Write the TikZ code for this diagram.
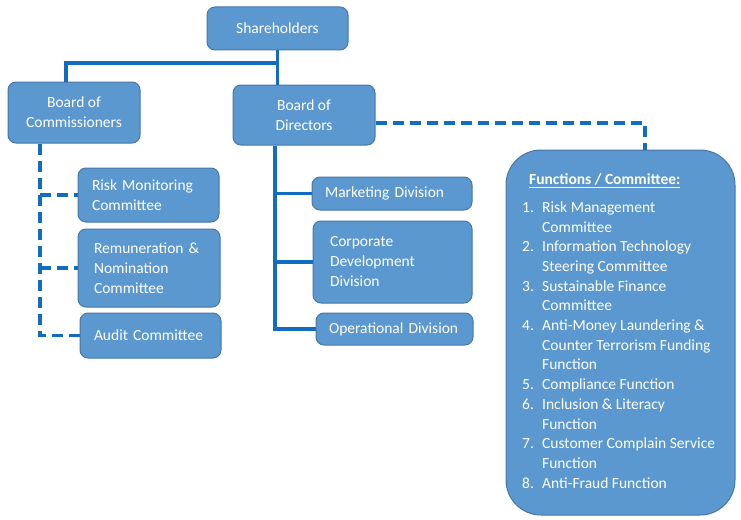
\documentclass[tikz,border=0pt]{standalone}
\usepackage{fontspec}
\setmainfont{Carlito}
\definecolor{boxfill}{RGB}{91,152,208}
\definecolor{boxline}{RGB}{70,120,165}
\definecolor{conn}{RGB}{18,108,192}
\begin{document}
\begin{tikzpicture}[x=1pt,y=-1pt,
 box/.style={draw=boxline, line width=1pt, fill=boxfill, rounded corners=8pt, text=white,
   font=\fontsize{15.5}{20}\selectfont, inner ysep=0pt},
 solidline/.style={draw=conn, line width=3.5pt},
 dashline/.style={draw=conn, line width=3.5pt, dash pattern=on 11pt off 6pt}]
\useasboundingbox (0,0) rectangle (741,519);
% boxes
\node[box, minimum width=141pt, minimum height=43pt] (sh) at (277.5,28.5) {Shareholders};
\node[box, minimum width=132pt, minimum height=61pt, align=center] (boc) at (74,112.5) {Board of\\Commissioners};
\node[box, minimum width=142pt, minimum height=60pt, align=center] (bod) at (304,115) {Board of\\Directors};
\node[box, minimum width=141pt, minimum height=54pt, inner xsep=14pt, text width=113pt, align=left] (rmc) at (148.5,195) {Risk Monitoring\\Committee};
\node[box, minimum width=142pt, minimum height=78pt, inner xsep=16pt, text width=110pt, align=left] (rem) at (149,268) {Remuneration \&\\Nomination\\Committee};
\node[box, minimum width=141pt, minimum height=45pt, inner xsep=14pt, text width=113pt, align=left] (aud) at (150.5,335.5) {Audit Committee};
\node[box, minimum width=160pt, minimum height=33pt, inner xsep=13pt, text width=134pt, align=left] (mkt) at (392,193.5) {Marketing Division};
\node[box, minimum width=159pt, minimum height=82pt, inner xsep=17pt, text width=125pt, align=left] (cor) at (392.5,262) {Corporate\\Development\\Division};
\node[box, minimum width=157pt, minimum height=32pt, inner xsep=13pt, text width=131pt, align=left] (ops) at (394.5,329) {Operational Division};
\node[box, minimum width=229pt, minimum height=365pt, rounded corners=35pt] (func) at (620.5,332.5) {};
\node[anchor=north west, inner sep=0pt, text=white, align=left, font=\fontsize{15.5}{19.7}\selectfont] (flist) at (522,173.5) {%
\hspace*{7pt}\textbf{\underline{Functions / Committee:}}\\[8pt]
\makebox[20pt][l]{1.}Risk Management\\
\hspace*{20pt}Committee\\
\makebox[20pt][l]{2.}Information Technology\\
\hspace*{20pt}Steering Committee\\
\makebox[20pt][l]{3.}Sustainable Finance\\
\hspace*{20pt}Committee\\
\makebox[20pt][l]{4.}Anti-Money Laundering \&\\
\hspace*{20pt}Counter Terrorism Funding\\
\hspace*{20pt}Function\\
\makebox[20pt][l]{5.}Compliance Function\\
\makebox[20pt][l]{6.}Inclusion \& Literacy\\
\hspace*{20pt}Function\\
\makebox[20pt][l]{7.}Customer Complain Service\\
\hspace*{20pt}Function\\
\makebox[20pt][l]{8.}Anti-Fraud Function};
% solid connectors
\coordinate (jn) at (276.5,63);
\draw[solidline] (sh.south) -- (sh.south |- bod.north);
\draw[solidline] (jn) -| ([xshift=-8pt]boc.north);
\coordinate (dtop) at ([xshift=-29pt]bod.south);
\draw[solidline] (dtop) |- (ops.west);
\draw[solidline] (dtop |- mkt.west) -- (mkt.west);
\draw[solidline] (dtop |- cor.west) -- (cor.west);
% dashed connectors
\coordinate (ctop) at ([xshift=-34pt]boc.south);
\draw[dashline] (ctop) |- (aud.west);
\draw[dashline] (ctop |- rmc.west) -- (rmc.west);
\draw[dashline] (ctop |- rem.west) -- (rem.west);
\draw[dashline] ([yshift=-8pt]bod.east) -| ([xshift=24.5pt]func.north);
\end{tikzpicture}
\end{document}
